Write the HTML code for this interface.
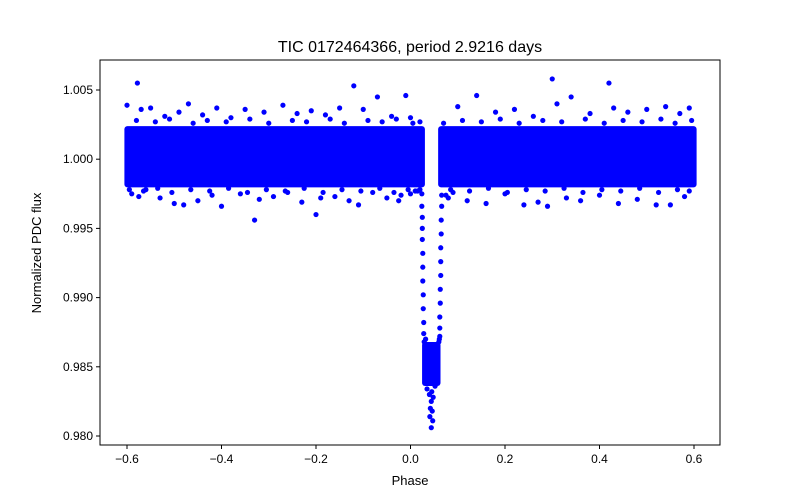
<!DOCTYPE html>
<html><head><meta charset="utf-8"><style>
body{margin:0;background:#fff}
svg{display:block;font-family:"Liberation Sans","DejaVu Sans",sans-serif}
</style></head><body>
<svg id="chart" width="800" height="500" viewBox="0 0 800 500" xmlns="http://www.w3.org/2000/svg">
<rect width="800" height="500" fill="#fff"/>
<text x="410" y="52" text-anchor="middle" font-size="16">TIC 0172464366, period 2.9216 days</text>
<g id="marks"></g>
<rect x="100" y="60" width="620" height="385" fill="none" stroke="#000" stroke-width="1"/>
<g id="xaxis"></g>
<g id="yaxis"></g>
<text x="410" y="485" text-anchor="middle" font-size="13">Phase</text>
<text x="0" y="0" transform="translate(41,253) rotate(-90)" text-anchor="middle" font-size="13">Normalized PDC flux</text>
</svg>
<script>
const xTicks=[-0.6,-0.4,-0.2,0.0,0.2,0.4,0.6];
const xTickLabels=["−0.6","−0.4","−0.2","0.0","0.2","0.4","0.6"];
const yTicks=[0.980,0.985,0.990,0.995,1.000,1.005];
const yTickLabels=["0.980","0.985","0.990","0.995","1.000","1.005"];
// dense regions: [phaseStart, phaseEnd, fluxLow, fluxHigh]
const bandStart=[-0.6,0.064,0.030];
const bandEnd=[0.025,0.6,0.058];
const bandLow=[0.99815,0.99815,0.9838];
const bandHigh=[1.0022,1.0022,0.9866];
// sparse points: phase and flux
const ptPhase=[-0.578,-0.6,-0.57,-0.55,-0.52,-0.49,-0.47,-0.44,-0.41,-0.38,-0.35,-0.31,-0.27,-0.24,-0.21,-0.18,-0.15,-0.12,-0.1,-0.07,-0.04,-0.01,0.0,
-0.59,-0.575,-0.56,-0.53,-0.5,-0.48,-0.45,-0.42,-0.4,-0.36,-0.33,-0.32,-0.29,-0.26,-0.23,-0.2,-0.19,-0.16,-0.13,-0.11,-0.08,-0.05,-0.02,
0.1,0.14,0.18,0.22,0.26,0.3,0.31,0.34,0.38,0.42,0.43,0.46,0.5,0.54,0.57,0.59,
0.08,0.12,0.16,0.2,0.24,0.27,0.29,0.33,0.36,0.4,0.44,0.48,0.52,0.55,0.58,
-0.025,0.0,0.01,0.02,0.075,0.09,
-0.58,-0.54,-0.51,-0.46,-0.43,-0.39,-0.34,-0.3,-0.25,-0.22,-0.17,-0.14,-0.09,-0.06,-0.03,0.005,0.02,0.07,0.11,0.15,0.19,0.23,0.28,0.32,0.37,0.41,0.45,0.49,0.53,0.56,0.595,
-0.595,-0.565,-0.535,-0.505,-0.465,-0.425,-0.385,-0.345,-0.305,-0.265,-0.225,-0.185,-0.145,-0.105,-0.065,-0.035,-0.005,0.015,0.085,0.125,0.165,0.205,0.245,0.285,0.325,0.365,0.405,0.445,0.485,0.525,0.565,0.59,
0.024,0.024,0.025,0.025,0.025,0.026,0.026,0.026,0.027,0.027,0.028,0.028,
0.066,0.066,0.065,0.065,0.064,0.064,0.064,0.063,0.063,0.062,0.062,0.061,
0.029,0.032,0.060,0.062,0.035,0.045,0.052,0.040,0.048,0.044,0.042,0.046,0.041,0.047,0.044];
const ptFlux=[1.0055,1.0039,1.0036,1.0037,1.0031,1.0034,1.0040,1.0032,1.0037,1.0030,1.0036,1.0034,1.0039,1.0033,1.0035,1.0032,1.0037,1.0053,1.0036,1.0045,1.0031,1.0046,1.0030,
0.9975,0.9973,0.9978,0.9972,0.9968,0.9967,0.9970,0.9974,0.9966,0.9975,0.9956,0.9971,0.9973,0.9976,0.9969,0.9960,0.9972,0.9973,0.9970,0.9967,0.9976,0.9972,0.9974,
1.0038,1.0046,1.0034,1.0036,1.0031,1.0058,1.0040,1.0045,1.0033,1.0055,1.0037,1.0034,1.0036,1.0038,1.0033,1.0037,
0.9972,0.9970,0.9968,0.9975,0.9967,0.9969,0.9966,0.9972,0.9970,0.9974,0.9968,0.9971,0.9967,0.9967,0.9973,
0.9970,0.9975,0.9977,0.9978,0.9974,0.9976,
1.0028,1.0027,1.0029,1.0026,1.0028,1.0027,1.0029,1.0026,1.0028,1.0027,1.0029,1.0026,1.0028,1.0027,1.0029,1.0026,1.0027,1.0026,1.0028,1.0027,1.0029,1.0026,1.0028,1.0027,1.0029,1.0026,1.0028,1.0027,1.0029,1.0026,1.0028,
0.9978,0.9977,0.9979,0.9976,0.9978,0.9977,0.9979,0.9976,0.9978,0.9977,0.9979,0.9976,0.9978,0.9977,0.9979,0.9976,0.9978,0.9977,0.9978,0.9977,0.9979,0.9976,0.9978,0.9977,0.9979,0.9976,0.9978,0.9977,0.9979,0.9976,0.9978,0.9977,
0.9975,0.9966,0.9958,0.9950,0.9942,0.9932,0.9922,0.9912,0.9902,0.9892,0.9882,0.9874,
0.9974,0.9966,0.9956,0.9946,0.9936,0.9926,0.9916,0.9906,0.9896,0.9886,0.9878,0.9870,
0.9868,0.9870,0.9868,0.9872,0.9834,0.9832,0.9836,0.9830,0.9828,0.9825,0.9820,0.9818,0.9814,0.9811,0.9806];
const X0=100,X1=720,Y0=60,Y1=445;
const xS=v=>410.5+v*472.5;
const yS=v=>159.2-(v-1)*13840;
const NS="http://www.w3.org/2000/svg";
const mk=(t,a)=>{const e=document.createElementNS(NS,t);for(const k in a)e.setAttribute(k,a[k]);return e;};
const marks=document.getElementById('marks');
for(let i=0;i<bandStart.length;i++){
  const x=xS(bandStart[i]),w=xS(bandEnd[i])-x,y=yS(bandHigh[i]),h=yS(bandLow[i])-y;
  const r=mk('rect',{x:x-2.6,y:y-2.6,width:w+5.2,height:h+5.2,rx:3,fill:'#0000ff'});
  
  
  marks.appendChild(r);
}
for(let i=0;i<ptPhase.length;i++){
  const c=mk('circle',{cx:xS(ptPhase[i]),cy:yS(ptFlux[i]),r:2.6,fill:'#0000ff'});
  
  
  marks.appendChild(c);
}
const xa=document.getElementById('xaxis');
xTicks.forEach((v,i)=>{
  const x=xS(v);
  const l=mk('line',{x1:x,x2:x,y1:Y1,y2:Y1+4,stroke:'#000'});
  
  
  xa.appendChild(l);
  const t=mk('text',{x:x,y:Y1+18,'text-anchor':'middle','font-size':'12'});
  t.textContent=xTickLabels[i];
  
  
  xa.appendChild(t);
});
const ya=document.getElementById('yaxis');
yTicks.forEach((v,i)=>{
  const y=yS(v);
  const l=mk('line',{x1:X0-4,x2:X0,y1:y,y2:y,stroke:'#000'});
  
  
  ya.appendChild(l);
  const t=mk('text',{x:X0-7,y:y+4,'text-anchor':'end','font-size':'12'});
  t.textContent=yTickLabels[i];
  
  
  ya.appendChild(t);
});
</script>
</body></html>
